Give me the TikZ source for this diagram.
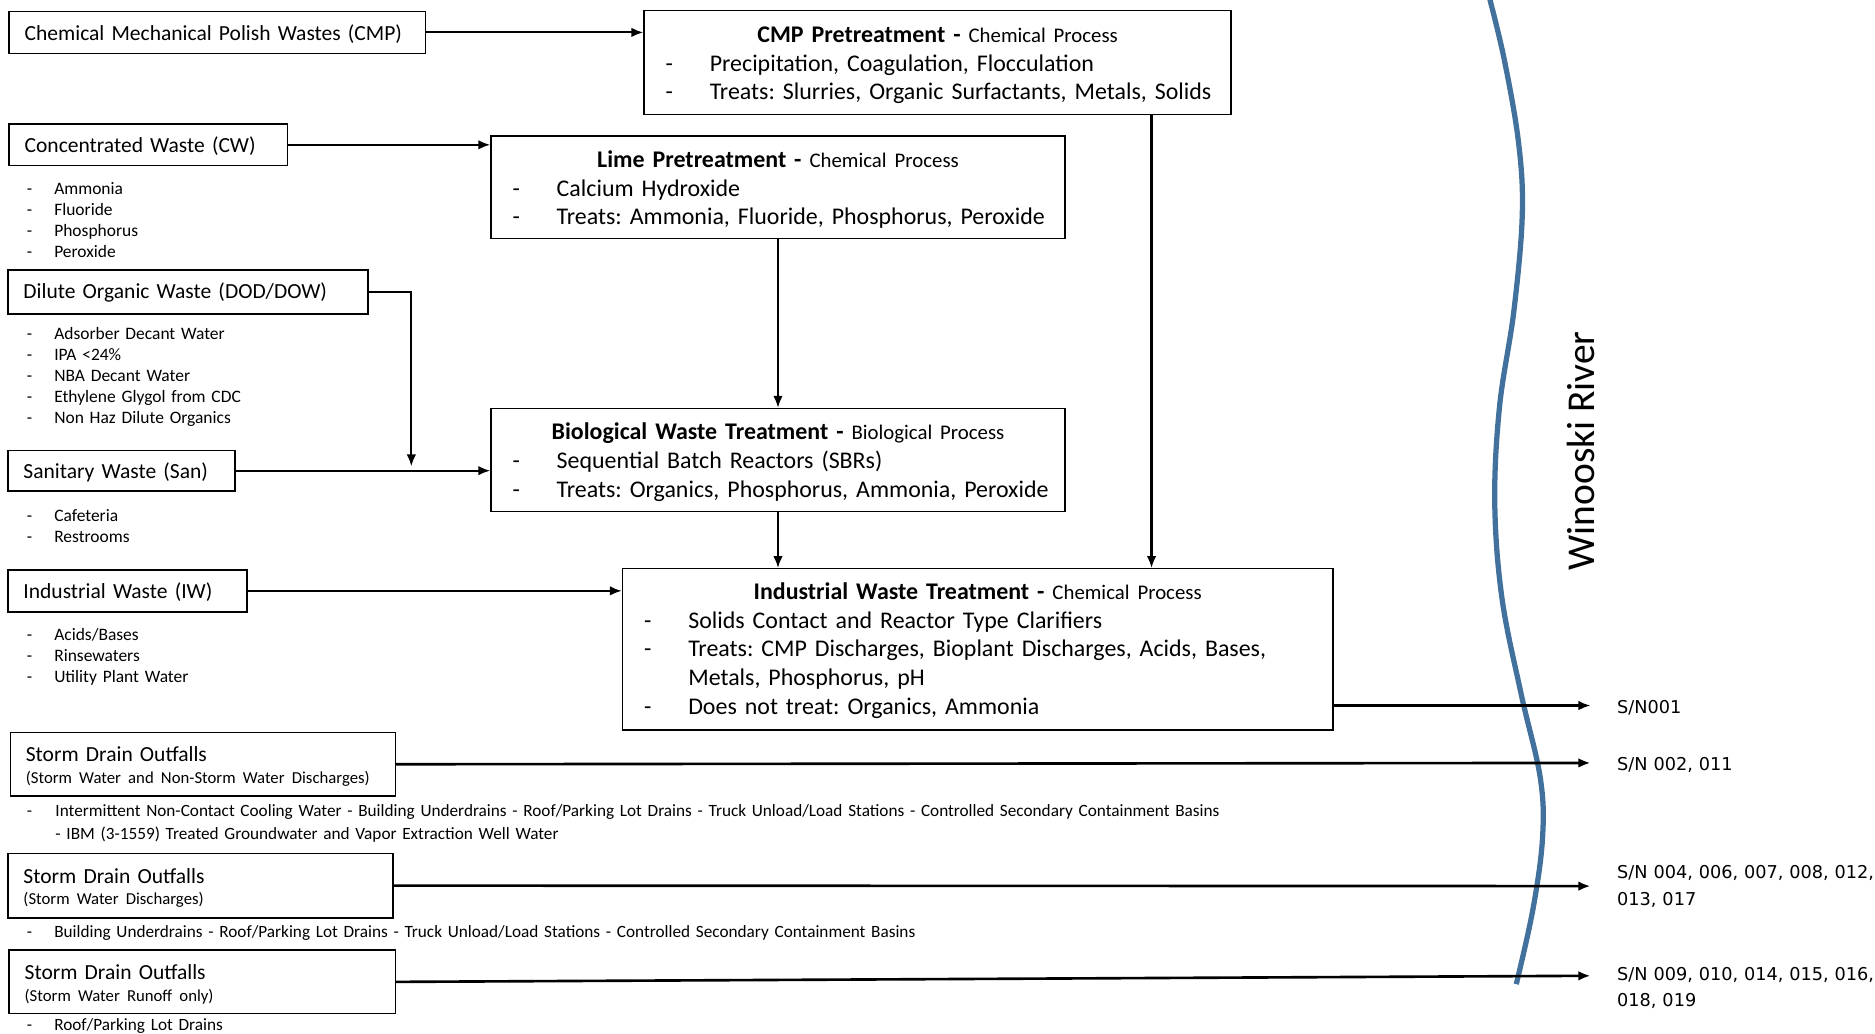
\documentclass[tikz,border=0pt]{standalone}
\usepackage{fontspec}
\setmainfont{Carlito}
\newfontfamily\snfont{DejaVu Sans}
\usetikzlibrary{arrows.meta,calc}
\newcommand\itm[1]{\mbox{\makebox[18.5pt][l]{-}#1}}
\newcommand\litm[1]{\mbox{\makebox[11.5pt][l]{-}#1}}
\newcommand\ttl[3][9pt]{\makebox[\linewidth]{\rule{0pt}{#1}\textbf{#2 -} {\fontsize{8.7}{12}\selectfont #3}}}
\newcommand\srct[2][7.8pt]{\mbox{\rule{0pt}{#1}#2}}
\newcommand\sdt[1]{\fontsize{9}{9}\selectfont \mbox{\rule{0pt}{8.3pt}Storm Drain Outfalls}\\[-2pt] \fontsize{7}{9}\selectfont \mbox{#1}}
\definecolor{riverblue}{RGB}{65,113,156}
\begin{document}
\frenchspacing
\begin{tikzpicture}[x=0.5pt,y=-0.5pt,
  box/.style={draw, line width=0.6pt, anchor=north west, align=left, inner ysep=0pt},
  srcbox/.style={box, inner xsep=6.5pt, font=\fontsize{9}{11}\selectfont},
  procbox/.style={box, inner xsep=9pt, font=\fontsize{10}{12}\selectfont},
  lst/.style={anchor=base west, align=left, inner sep=0pt, text width=200pt},
  sn/.style={anchor=base west, align=left, inner sep=0pt, text width=150pt, font=\snfont\fontsize{7.4}{11}\selectfont},
  arr/.style={line width=0.9pt, -{Latex[length=5pt,width=4pt]}},
  sarr/.style={line width=1.1pt, -{Latex[length=5pt,width=4pt]}},
  river/.style={draw=riverblue, line width=2.2pt}]
\useasboundingbox (0,0) rectangle (1568,864);

% source boxes
\node[srcbox, text width=161pt, minimum height=17.5pt] (cmp) at (7,9) {\srct[8.3pt]{Chemical Mechanical Polish Wastes (CMP)}};
\node[srcbox, text width=103.5pt, minimum height=17.5pt] (cw) at (7,103) {\srct{Concentrated Waste (CW)}};
\node[srcbox, text width=137.5pt, minimum height=18.5pt] (dod) at (6,225) {\srct[7.4pt]{Dilute Organic Waste (DOD/DOW)}};
\node[srcbox, text width=82pt, minimum height=17pt] (san) at (6,376) {\srct{Sanitary Waste (San)}};
\node[srcbox, text width=87pt, minimum height=17.5pt] (iw) at (6,476) {\srct{Industrial Waste (IW)}};
\node[srcbox, text width=148pt, minimum height=26.5pt] (sd1) at (8,612) {\sdt{(Storm Water and Non-Storm Water Discharges)}};
\node[srcbox, text width=148pt, minimum height=27pt] (sd2) at (6,713) {\sdt{(Storm Water Discharges)}};
\node[srcbox, text width=148.5pt, minimum height=26.5pt] (sd3) at (7,794) {\sdt{(Storm Water Runoff only)}};

% lists
\node[lst, font=\fontsize{7.3}{8.8}\selectfont] (cwl) at (22,162.5) {\litm{Ammonia}\\ \litm{Fluoride}\\ \litm{Phosphorus}\\ \litm{Peroxide}};
\node[lst, font=\fontsize{7.3}{8.75}\selectfont] (dodl) at (22,284) {\litm{Adsorber Decant Water}\\ \litm{IPA <24\%}\\ \litm{NBA Decant Water}\\ \litm{Ethylene Glygol from CDC}\\ \litm{Non Haz Dilute Organics}};
\node[lst, font=\fontsize{7.3}{8.75}\selectfont] (sanl) at (22,436.5) {\litm{Cafeteria}\\ \litm{Restrooms}};
\node[lst, font=\fontsize{7.3}{8.75}\selectfont] (iwl) at (22,535.5) {\litm{Acids/Bases}\\ \litm{Rinsewaters}\\ \litm{Utility Plant Water}};
\node[lst, text width=520pt, font=\fontsize{7.2}{9.5}\selectfont] (sd1l) at (22,683) {\mbox{\makebox[12pt][l]{-}Intermittent Non-Contact Cooling Water - Building Underdrains - Roof/Parking Lot Drains - Truck Unload/Load Stations - Controlled Secondary Containment Basins}\\ \mbox{\hspace*{12pt}- IBM (3-1559) Treated Groundwater and Vapor Extraction Well Water}};
\node[lst, text width=420pt, font=\fontsize{7.2}{9.5}\selectfont] (sd2l) at (22,784) {\mbox{\makebox[11.5pt][l]{-}Building Underdrains - Roof/Parking Lot Drains - Truck Unload/Load Stations - Controlled Secondary Containment Basins}};
\node[lst, font=\fontsize{7.2}{9.5}\selectfont] (sd3l) at (22,861.5) {\litm{Roof/Parking Lot Drains}};

% process boxes
\node[procbox, text width=227.5pt, minimum height=43.5pt] (cmppre) at (538,8) {\ttl{CMP Pretreatment}{Chemical Process}\\ \itm{Precipitation, Coagulation, Flocculation}\\ \itm{Treats: Slurries, Organic Surfactants, Metals, Solids}};
\node[procbox, text width=222pt, minimum height=43pt] (lime) at (410,113) {\ttl{Lime Pretreatment}{Chemical Process}\\ \itm{Calcium Hydroxide}\\ \itm{Treats: Ammonia, Fluoride, Phosphorus, Peroxide}};
\node[procbox, text width=222pt, minimum height=43pt] (bio) at (410,341) {\ttl{Biological Waste Treatment}{Biological Process}\\ \itm{Sequential Batch Reactors (SBRs)}\\ \itm{Treats: Organics, Phosphorus, Ammonia, Peroxide}};
\node[procbox, text width=279pt, minimum height=67.5pt] (ind) at (520,475) {\ttl[8pt]{Industrial Waste Treatment}{Chemical Process}\\ \itm{Solids Contact and Reactor Type Clarifiers}\\ \itm{Treats: CMP Discharges, Bioplant Discharges, Acids, Bases,}\\ \mbox{\hspace*{18.5pt}Metals, Phosphorus, pH}\\ \itm{Does not treat: Organics, Ammonia}};

% river
\draw[river] plot[smooth, tension=0.6] coordinates {(1245,-4) (1258,50) (1270,120) (1273,180) (1266,260) (1254,340) (1250,420) (1256,500) (1272,580) (1288,650) (1290,700) (1282,760) (1268,823)};
\node[rotate=90, font=\fontsize{16.5}{18}\selectfont, inner sep=0pt] (winooski) at (1322,377) {Winooski River};

% outfall labels
\node[sn] (sn1) at (1352,597) {S/N001};
\node[sn] (sn2) at (1352,644) {S/N 002, 011};
\node[sn] (sn3) at (1352,735) {S/N 004, 006, 007, 008, 012,\\013, 017};
\node[sn] (sn4) at (1352,820) {S/N 009, 010, 014, 015, 016,\\018, 019};
\coordinate (e1) at (1330,590);
\coordinate (e2) at (1330,638);
\coordinate (e3) at (1330,741);
\coordinate (e4) at (1330,816);
\coordinate (dj) at (344,390);
\coordinate (ct) at (963,0);

% connectors
\draw[arr] (cmp.east) -- (cmp.east -| cmppre.west);
\draw[arr] (cw.east) -- (cw.east -| lime.west);
\draw[arr] (dod.east) -| (dj);
\draw[arr] (san.east) -- (san.east -| bio.west);
\draw[arr] (lime.south) -- (bio.north);
\draw[arr] (bio.south) -- (ind.north -| bio.south);
\draw[arr] (cmppre.south -| ct) -- (ind.north -| ct);
\draw[arr] (iw.east) -- (iw.east -| ind.west);
\draw[arr] (ind.east |- e1) -- (e1);
\draw[sarr] (sd1.east) -- (e2);
\draw[sarr] (sd2.east) -- (e3);
\draw[sarr] (sd3.east) -- (e4);
\end{tikzpicture}
\end{document}
